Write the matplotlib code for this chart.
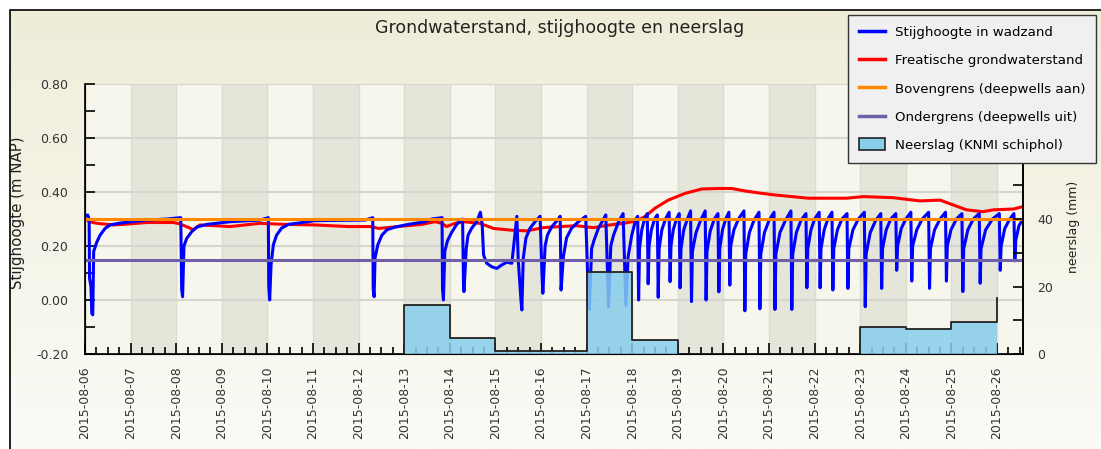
import numpy as np
import pandas as pd
import matplotlib
matplotlib.use('Agg')
import matplotlib.pyplot as plt
import matplotlib.dates as mdates
from matplotlib.patches import Rectangle, Patch
from matplotlib.lines import Line2D
from matplotlib.colors import LinearSegmentedColormap

# --- data ---
start = pd.Timestamp('2015-08-06 00:00')
end = pd.Timestamp('2015-08-26 13:40')

# stijghoogte in wadzand: (days since start, m NAP)
blue_t = [0.00, 0.06, 0.09, 0.10, 0.13, 0.15, 0.17, 0.19, 0.26, 0.33, 0.44, 0.55, 0.77, 1.35, 1.80,
          2.10, 2.12, 2.14, 2.17, 2.23, 2.34, 2.45, 2.67, 3.18, 3.84,
          4.02, 4.03, 4.05, 4.08, 4.13, 4.20, 4.31, 4.46, 4.68, 5.04, 6.14,
          6.31, 6.32, 6.34, 6.36, 6.42, 6.51, 6.62, 6.80, 7.09, 7.46, 7.60,
          7.83, 7.84, 7.86, 7.89, 7.95, 8.04, 8.15, 8.28,
          8.30, 8.31, 8.36, 8.40, 8.48, 8.59, 8.67, 8.71, 8.74, 8.81, 8.92, 9.03, 9.14, 9.25, 9.36, 9.40, 9.47,
          9.50, 9.56, 9.58, 9.61, 9.67, 9.76, 9.87, 9.98,
          10.02, 10.04, 10.09, 10.14, 10.23, 10.38, 10.42,
          10.44, 10.49, 10.56, 10.67, 10.82, 10.98,
          11.04, 11.06, 11.11, 11.16, 11.26, 11.37, 11.42,
          11.48, 11.53, 11.59, 11.70, 11.80,
          11.86, 11.91, 11.99, 12.08, 12.12,
          12.14, 12.16, 12.21, 12.27, 12.33,
          12.35, 12.37, 12.42, 12.49, 12.55,
          12.57, 12.59, 12.65, 12.73, 12.81,
          12.83, 12.85, 12.90, 12.97, 13.03,
          13.05, 13.07, 13.13, 13.21, 13.28,
          13.30, 13.32, 13.40, 13.50, 13.60,
          13.62, 13.64, 13.71, 13.80, 13.88,
          13.90, 13.92, 13.98, 14.05, 14.12,
          14.14, 14.16, 14.23, 14.33, 14.45,
          14.47, 14.49, 14.57, 14.67, 14.78,
          14.80, 14.82, 14.90, 15.00, 15.11,
          15.13, 15.15, 15.24, 15.36, 15.48,
          15.50, 15.52, 15.60, 15.70, 15.81,
          15.83, 15.85, 15.92, 16.00, 16.10,
          16.12, 16.14, 16.21, 16.29, 16.38,
          16.40, 16.42, 16.50, 16.60, 16.71,
          16.73, 16.75, 16.84, 16.96, 17.09,
          17.11, 17.13, 17.22, 17.34, 17.45,
          17.47, 17.49, 17.57, 17.67, 17.78,
          17.80, 17.82, 17.90, 18.00, 18.11,
          18.13, 18.15, 18.24, 18.36, 18.50,
          18.52, 18.54, 18.63, 18.75, 18.87,
          18.89, 18.91, 18.99, 19.11, 19.23,
          19.25, 19.27, 19.36, 19.48, 19.61,
          19.63, 19.65, 19.75, 19.90, 20.05,
          20.07, 20.09, 20.17, 20.28, 20.37,
          20.39, 20.41, 20.48, 20.57]
blue_v = [0.310, 0.315, 0.300, 0.080, 0.050, -0.050, -0.055, 0.180, 0.215, 0.240, 0.265, 0.278, 0.285, 0.296, 0.300,
          0.305, 0.040, 0.012, 0.200, 0.228, 0.253, 0.270, 0.280, 0.290, 0.296,
          0.305, 0.050, 0.000, 0.130, 0.204, 0.240, 0.266, 0.280, 0.285, 0.294, 0.296,
          0.305, 0.040, 0.012, 0.155, 0.204, 0.240, 0.260, 0.270, 0.280, 0.290, 0.300,
          0.305, 0.040, 0.000, 0.180, 0.220, 0.250, 0.280, 0.300,
          0.060, 0.031, 0.190, 0.240, 0.266, 0.290, 0.325, 0.280, 0.167, 0.136, 0.123, 0.117, 0.130, 0.140, 0.136, 0.200, 0.310,
          0.150, 0.000, -0.037, 0.154, 0.230, 0.266, 0.290, 0.310,
          0.100, 0.025, 0.200, 0.240, 0.270, 0.300, 0.310,
          0.037, 0.160, 0.230, 0.266, 0.290, 0.310,
          0.000, -0.035, 0.190, 0.220, 0.266, 0.300, 0.315,
          -0.025, 0.200, 0.240, 0.290, 0.320,
          -0.020, 0.160, 0.240, 0.300, 0.310,
          0.000, 0.190, 0.260, 0.300, 0.320,
          0.060, 0.200, 0.260, 0.300, 0.315,
          0.010, 0.190, 0.260, 0.300, 0.325,
          0.068, 0.200, 0.260, 0.300, 0.320,
          0.045, 0.190, 0.260, 0.300, 0.330,
          -0.006, 0.180, 0.250, 0.295, 0.330,
          0.000, 0.180, 0.255, 0.300, 0.320,
          0.030, 0.190, 0.260, 0.300, 0.325,
          0.055, 0.200, 0.260, 0.300, 0.330,
          -0.040, 0.170, 0.250, 0.295, 0.325,
          -0.033, 0.170, 0.250, 0.295, 0.325,
          -0.035, 0.170, 0.250, 0.295, 0.330,
          -0.035, 0.170, 0.250, 0.295, 0.320,
          0.045, 0.190, 0.260, 0.300, 0.325,
          0.045, 0.190, 0.260, 0.300, 0.325,
          0.037, 0.190, 0.260, 0.300, 0.320,
          0.043, 0.190, 0.260, 0.300, 0.325,
          -0.025, 0.170, 0.250, 0.295, 0.320,
          0.043, 0.190, 0.260, 0.300, 0.320,
          0.110, 0.200, 0.265, 0.300, 0.325,
          0.070, 0.200, 0.260, 0.300, 0.325,
          0.043, 0.190, 0.260, 0.300, 0.325,
          0.070, 0.200, 0.260, 0.300, 0.320,
          0.031, 0.190, 0.260, 0.300, 0.320,
          0.062, 0.190, 0.260, 0.300, 0.320,
          0.110, 0.200, 0.265, 0.300, 0.320,
          0.145, 0.220, 0.275, 0.300]

# freatische grondwaterstand: (days since start, m NAP)
red_t = [0.00, 0.10, 0.26, 0.62, 0.84, 1.35, 1.94, 2.08, 2.25, 2.38, 2.52, 3.18, 3.84, 4.39, 5.04,
         5.77, 6.29, 6.43, 6.87, 7.38, 7.68, 7.82, 7.93, 8.11, 8.30, 8.66, 8.96, 9.32, 9.69,
         10.05, 10.42, 10.78, 11.15, 11.51, 11.81, 12.10, 12.28, 12.50, 12.79, 13.16, 13.52,
         13.89, 14.18, 14.47, 14.84, 15.13, 15.50, 15.86, 16.15, 16.70, 17.07, 17.72, 18.31,
         18.75, 19.04, 19.33, 19.69, 19.92, 20.36, 20.57]
red_v = [0.300, 0.290, 0.284, 0.278, 0.280, 0.287, 0.287, 0.282, 0.270, 0.260, 0.278, 0.272, 0.284, 0.280, 0.278,
         0.272, 0.272, 0.265, 0.272, 0.280, 0.290, 0.284, 0.272, 0.284, 0.290, 0.284, 0.265, 0.259, 0.256,
         0.268, 0.272, 0.275, 0.268, 0.278, 0.284, 0.293, 0.309, 0.340, 0.370, 0.395, 0.411,
         0.413, 0.413, 0.404, 0.395, 0.389, 0.383, 0.377, 0.377, 0.377, 0.383, 0.379, 0.367,
         0.370, 0.352, 0.334, 0.327, 0.334, 0.337, 0.346]

bovengrens = 0.30
ondergrens = 0.15

# neerslag per dag (mm)
rain_dates = pd.date_range('2015-08-12', '2015-08-26', freq='D')
rain_mm = [0.0, 14.5, 4.7, 0.9, 0.9, 24.3, 4.1, 0.0, 0.0, 0.0, 0.0, 8.0, 7.4, 9.5, 16.6]

blue_dt = start + pd.to_timedelta(blue_t, unit='D')
red_dt = start + pd.to_timedelta(red_t, unit='D')

# --- figure ---
W, H = 1101, 449
fig = plt.figure(figsize=(W / 100, H / 100), dpi=100)

# background gradient inside the outer frame
bg = fig.add_axes([10 / W, 0, 1 - 10 / W, 1 - 10 / H], zorder=-10)
grad = np.linspace(0, 1, 256).reshape(-1, 1)
cmap = LinearSegmentedColormap.from_list('bg', ['#efedd8', '#fbfbf7'])
bg.imshow(grad, aspect='auto', cmap=cmap, extent=[0, 1, 0, 1])
bg.axis('off')

x0, x1, y0, y1 = 85, 1023, 84, 354
ax = fig.add_axes([x0 / W, 1 - y1 / H, (x1 - x0) / W, (y1 - y0) / H])
ax.set_facecolor('#f7f6ec')

# alternating day shading
for d in pd.date_range('2015-08-07', '2015-08-25', freq='2D'):
    ax.axvspan(d, d + pd.Timedelta(days=1), color='#e6e5d9', zorder=0, lw=0)
for d in pd.date_range('2015-08-06', '2015-08-26', freq='D'):
    ax.axvline(d, color='#dcdcd2', lw=1, zorder=0.5)
for yv in [0.0, 0.2, 0.4, 0.6, 0.8]:
    ax.axhline(yv, color='#d6d6cf', lw=1.5, zorder=0.5)

ax.plot(red_dt, red_v, color='#ff0000', lw=2.2, zorder=3)
ax.plot(blue_dt, blue_v, color='#0000ff', lw=2.2, zorder=4)
ax.axhline(bovengrens, color='#ff8800', lw=2.2, zorder=5)
ax.axhline(ondergrens, color='#6f60a8', lw=2.2, zorder=5)

ax.set_xlim(start, end)
ax.set_ylim(-0.2, 0.8)
ax.set_yticks([-0.2, 0.0, 0.2, 0.4, 0.6, 0.8])
ax.set_yticklabels(['-0.20', '0.00', '0.20', '0.40', '0.60', '0.80'])
ax.yaxis.set_minor_locator(matplotlib.ticker.MultipleLocator(0.1))
ax.xaxis.set_major_locator(mdates.DayLocator())
ax.xaxis.set_minor_locator(mdates.HourLocator(byhour=[6, 12, 18]))
ax.xaxis.set_major_formatter(mdates.DateFormatter('%Y-%m-%d'))
ax.tick_params(axis='x', which='major', direction='in', length=8, width=1.2, pad=9,
               labelsize=9, labelrotation=90, labelcolor='#333333')
ax.tick_params(axis='x', which='minor', direction='in', length=5, width=1.2)
ax.tick_params(axis='y', which='major', direction='in', length=7, width=1.2, pad=12,
               labelsize=9, labelcolor='#333333')
ax.tick_params(axis='y', which='minor', direction='in', length=7, width=1.2)
ax.spines['top'].set_visible(False)
for s in ['left', 'bottom', 'right']:
    ax.spines[s].set_linewidth(1.2)
ax.set_ylabel('Stijghoogte (m NAP)', fontsize=10.8, color='#222222')
ax.yaxis.set_label_coords((25 - x0) / (x1 - x0), 0.524)

# neerslag on the right axis
ax2 = ax.twinx()
ax2.fill_between(rain_dates, rain_mm, step='post', color='#87ceeb', alpha=0.85, lw=0, zorder=2)
ax2.step(rain_dates, rain_mm, where='post', color='#222222', lw=1.3, zorder=3)
ax2.set_ylim(0, 80)
ax2.set_yticks([0, 20, 40, 60, 80])
ax2.set_yticklabels(['0', '20', '40', '', ''])  # 60 and 80 sit under the legend
ax2.yaxis.set_minor_locator(matplotlib.ticker.MultipleLocator(10))
ax2.tick_params(axis='y', which='major', direction='in', length=7, width=1.2, pad=10,
                labelsize=9, labelcolor='#333333')
ax2.tick_params(axis='y', which='minor', direction='in', length=7, width=1.2)
ax2.spines['top'].set_visible(False)
ax2.spines['right'].set_linewidth(1.2)
ax2.set_ylabel('neerslag (mm)', fontsize=9, color='#222222')
ax2.yaxis.set_label_coords((1067 - x0) / (x1 - x0), 0.47)

fig.text(560 / W, 1 - 28 / H, 'Grondwaterstand, stijghoogte en neerslag',
         ha='center', va='center', fontsize=12.5, color='#222222')

handles = [
    Line2D([], [], color='#0000ff', lw=2.5),
    Line2D([], [], color='#ff0000', lw=2.5),
    Line2D([], [], color='#ff8800', lw=2.5),
    Line2D([], [], color='#6f60a8', lw=2.5),
    Patch(facecolor='#87ceeb', edgecolor='#222222', lw=1.2),
]
labels = ['Stijghoogte in wadzand', 'Freatische grondwaterstand', 'Bovengrens (deepwells aan)',
          'Ondergrens (deepwells uit)', 'Neerslag (KNMI schiphol)']
leg = fig.legend(handles, labels, loc='upper left', bbox_to_anchor=(848 / W, 1 - 15 / H),
                 borderaxespad=0, fontsize=9.6, frameon=True, fancybox=False,
                 facecolor='#f0f0f0', edgecolor='#333333', framealpha=1,
                 handlelength=2.0, handleheight=1.0, labelspacing=1.1, borderpad=0.8,
                 handletextpad=0.7)
leg.get_frame().set_linewidth(1.0)

# outer frame
fig.add_artist(Rectangle((10 / W, -0.2), 1.2, 1.2 - 10 / H, transform=fig.transFigure,
                         fill=False, edgecolor='black', lw=1.2, zorder=-5))

fig.savefig('out.png', dpi=100)
